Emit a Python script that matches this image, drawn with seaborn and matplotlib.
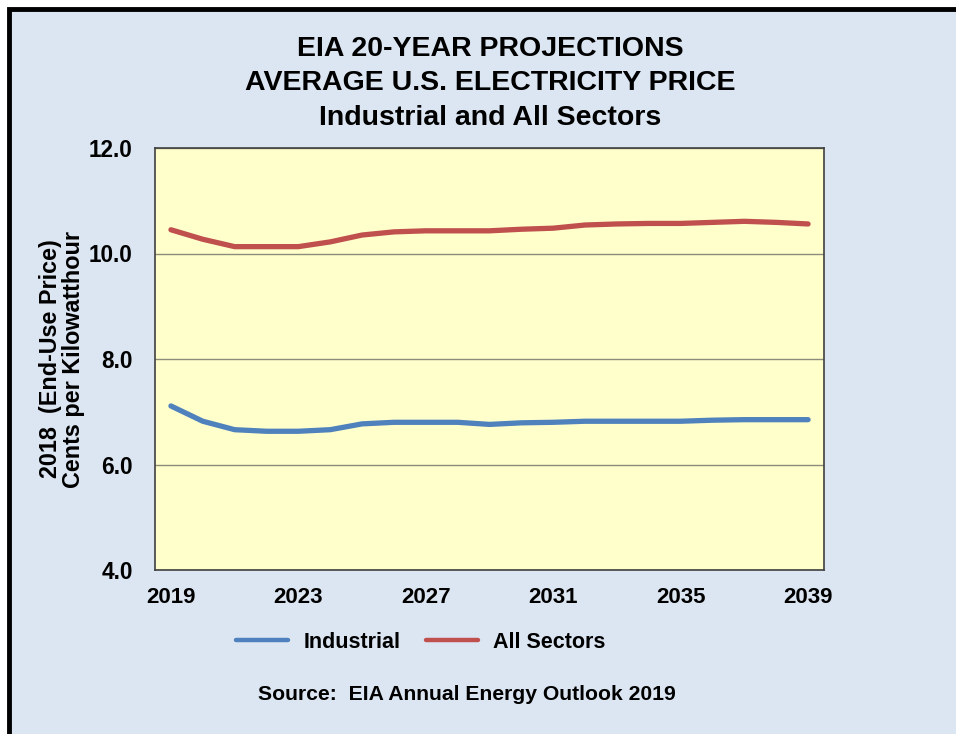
import matplotlib
matplotlib.use("Agg")
import matplotlib.pyplot as plt
import matplotlib.patches as mpatches
import numpy as np
import pandas as pd
import seaborn as sns

years = list(range(2019, 2040))
industrial = [7.11, 6.82, 6.66, 6.63, 6.63, 6.66, 6.77, 6.80, 6.80, 6.80, 6.76,
              6.79, 6.80, 6.82, 6.82, 6.82, 6.82, 6.84, 6.85, 6.85, 6.85]
all_sectors = [10.45, 10.27, 10.13, 10.13, 10.13, 10.22, 10.35, 10.41, 10.43, 10.43, 10.43,
               10.46, 10.48, 10.54, 10.56, 10.57, 10.57, 10.59, 10.61, 10.59, 10.56]
series_names = ["Industrial", "All Sectors"]
xtick_years = [2019, 2023, 2027, 2031, 2035, 2039]
ytick_vals = [4.0, 6.0, 8.0, 10.0, 12.0]

df = pd.DataFrame({
    "Year": years * 2,
    "Price": industrial + all_sectors,
    "Series": [series_names[0]] * len(years) + [series_names[1]] * len(years),
})

sns.set_theme(style="white")
plt.rcParams["font.family"] = ["Liberation Sans", "DejaVu Sans"]
plt.rcParams["font.weight"] = "bold"
plt.rcParams["text.color"] = "black"

fig = plt.figure(figsize=(9.56, 7.34), dpi=100)
fig.patch.set_facecolor("white")
# light blue panel with black frame
fig.patches.append(mpatches.Rectangle((9 / 956, -0.05), 1.05, 1 - 9 / 734 + 0.05,
                                      transform=fig.transFigure, facecolor="#DCE6F2",
                                      edgecolor="black", linewidth=3.5, zorder=-5))

ax = fig.add_axes([155 / 956, 1 - 570 / 734, 669 / 956, 422 / 734])
ax.set_zorder(2)
ax.set_facecolor("#FFFFCC")

palette = {"Industrial": "#4F81BD", "All Sectors": "#C0504D"}
sns.lineplot(data=df, x="Year", y="Price", hue="Series", palette=palette,
             linewidth=3.8, ax=ax, legend=False)

ax.set_xlim(2018.5, 2039.5)
ax.set_ylim(4.0, 12.0)
ax.set_xticks(xtick_years)
ax.set_xticklabels([str(y) for y in xtick_years], fontsize=16, fontweight="bold")
ax.set_yticks(ytick_vals)
ax.set_yticklabels([f"{v:.1f}" for v in ytick_vals], fontsize=16.3, fontweight="bold")
ax.tick_params(axis="x", length=0, pad=12, colors="black")
ax.tick_params(axis="y", length=0, pad=16, colors="black")
ax.yaxis.grid(True, color="#8C8C7A", linewidth=1.0)
ax.set_axisbelow(True)
for s in ax.spines.values():
    s.set_color("#404040")
    s.set_linewidth(1.2)
ax.set_xlabel("")
ax.set_ylabel("2018  (End-Use Price)\nCents per Kilowatthour", fontsize=16.8,
              fontweight="bold", linespacing=1.0, color="black")
ax.yaxis.set_label_coords(-0.104, 0.5)

for yy, line in [(49, "EIA 20-YEAR PROJECTIONS"), (83, "AVERAGE U.S. ELECTRICITY PRICE"),
                 (118, "Industrial and All Sectors")]:
    fig.text(490 / 956, 1 - yy / 734, line, ha="center", va="center",
             fontsize=20.5, fontweight="bold", color="black")

handles = [plt.Line2D([], [], color=palette[n], linewidth=3.2) for n in series_names]
fig.legend(handles, series_names, loc="center", bbox_to_anchor=(421 / 956, 1 - 642 / 734),
           ncol=2, frameon=False, handlelength=2.42, handletextpad=0.7, columnspacing=1.2,
           prop={"size": 15.5, "weight": "bold"})

fig.text(467 / 956, 1 - 694 / 734, "Source:  EIA Annual Energy Outlook 2019", ha="center",
         va="center", fontsize=15.2, fontweight="bold", color="black")

fig.savefig("out.png", dpi=100, facecolor=fig.get_facecolor())
